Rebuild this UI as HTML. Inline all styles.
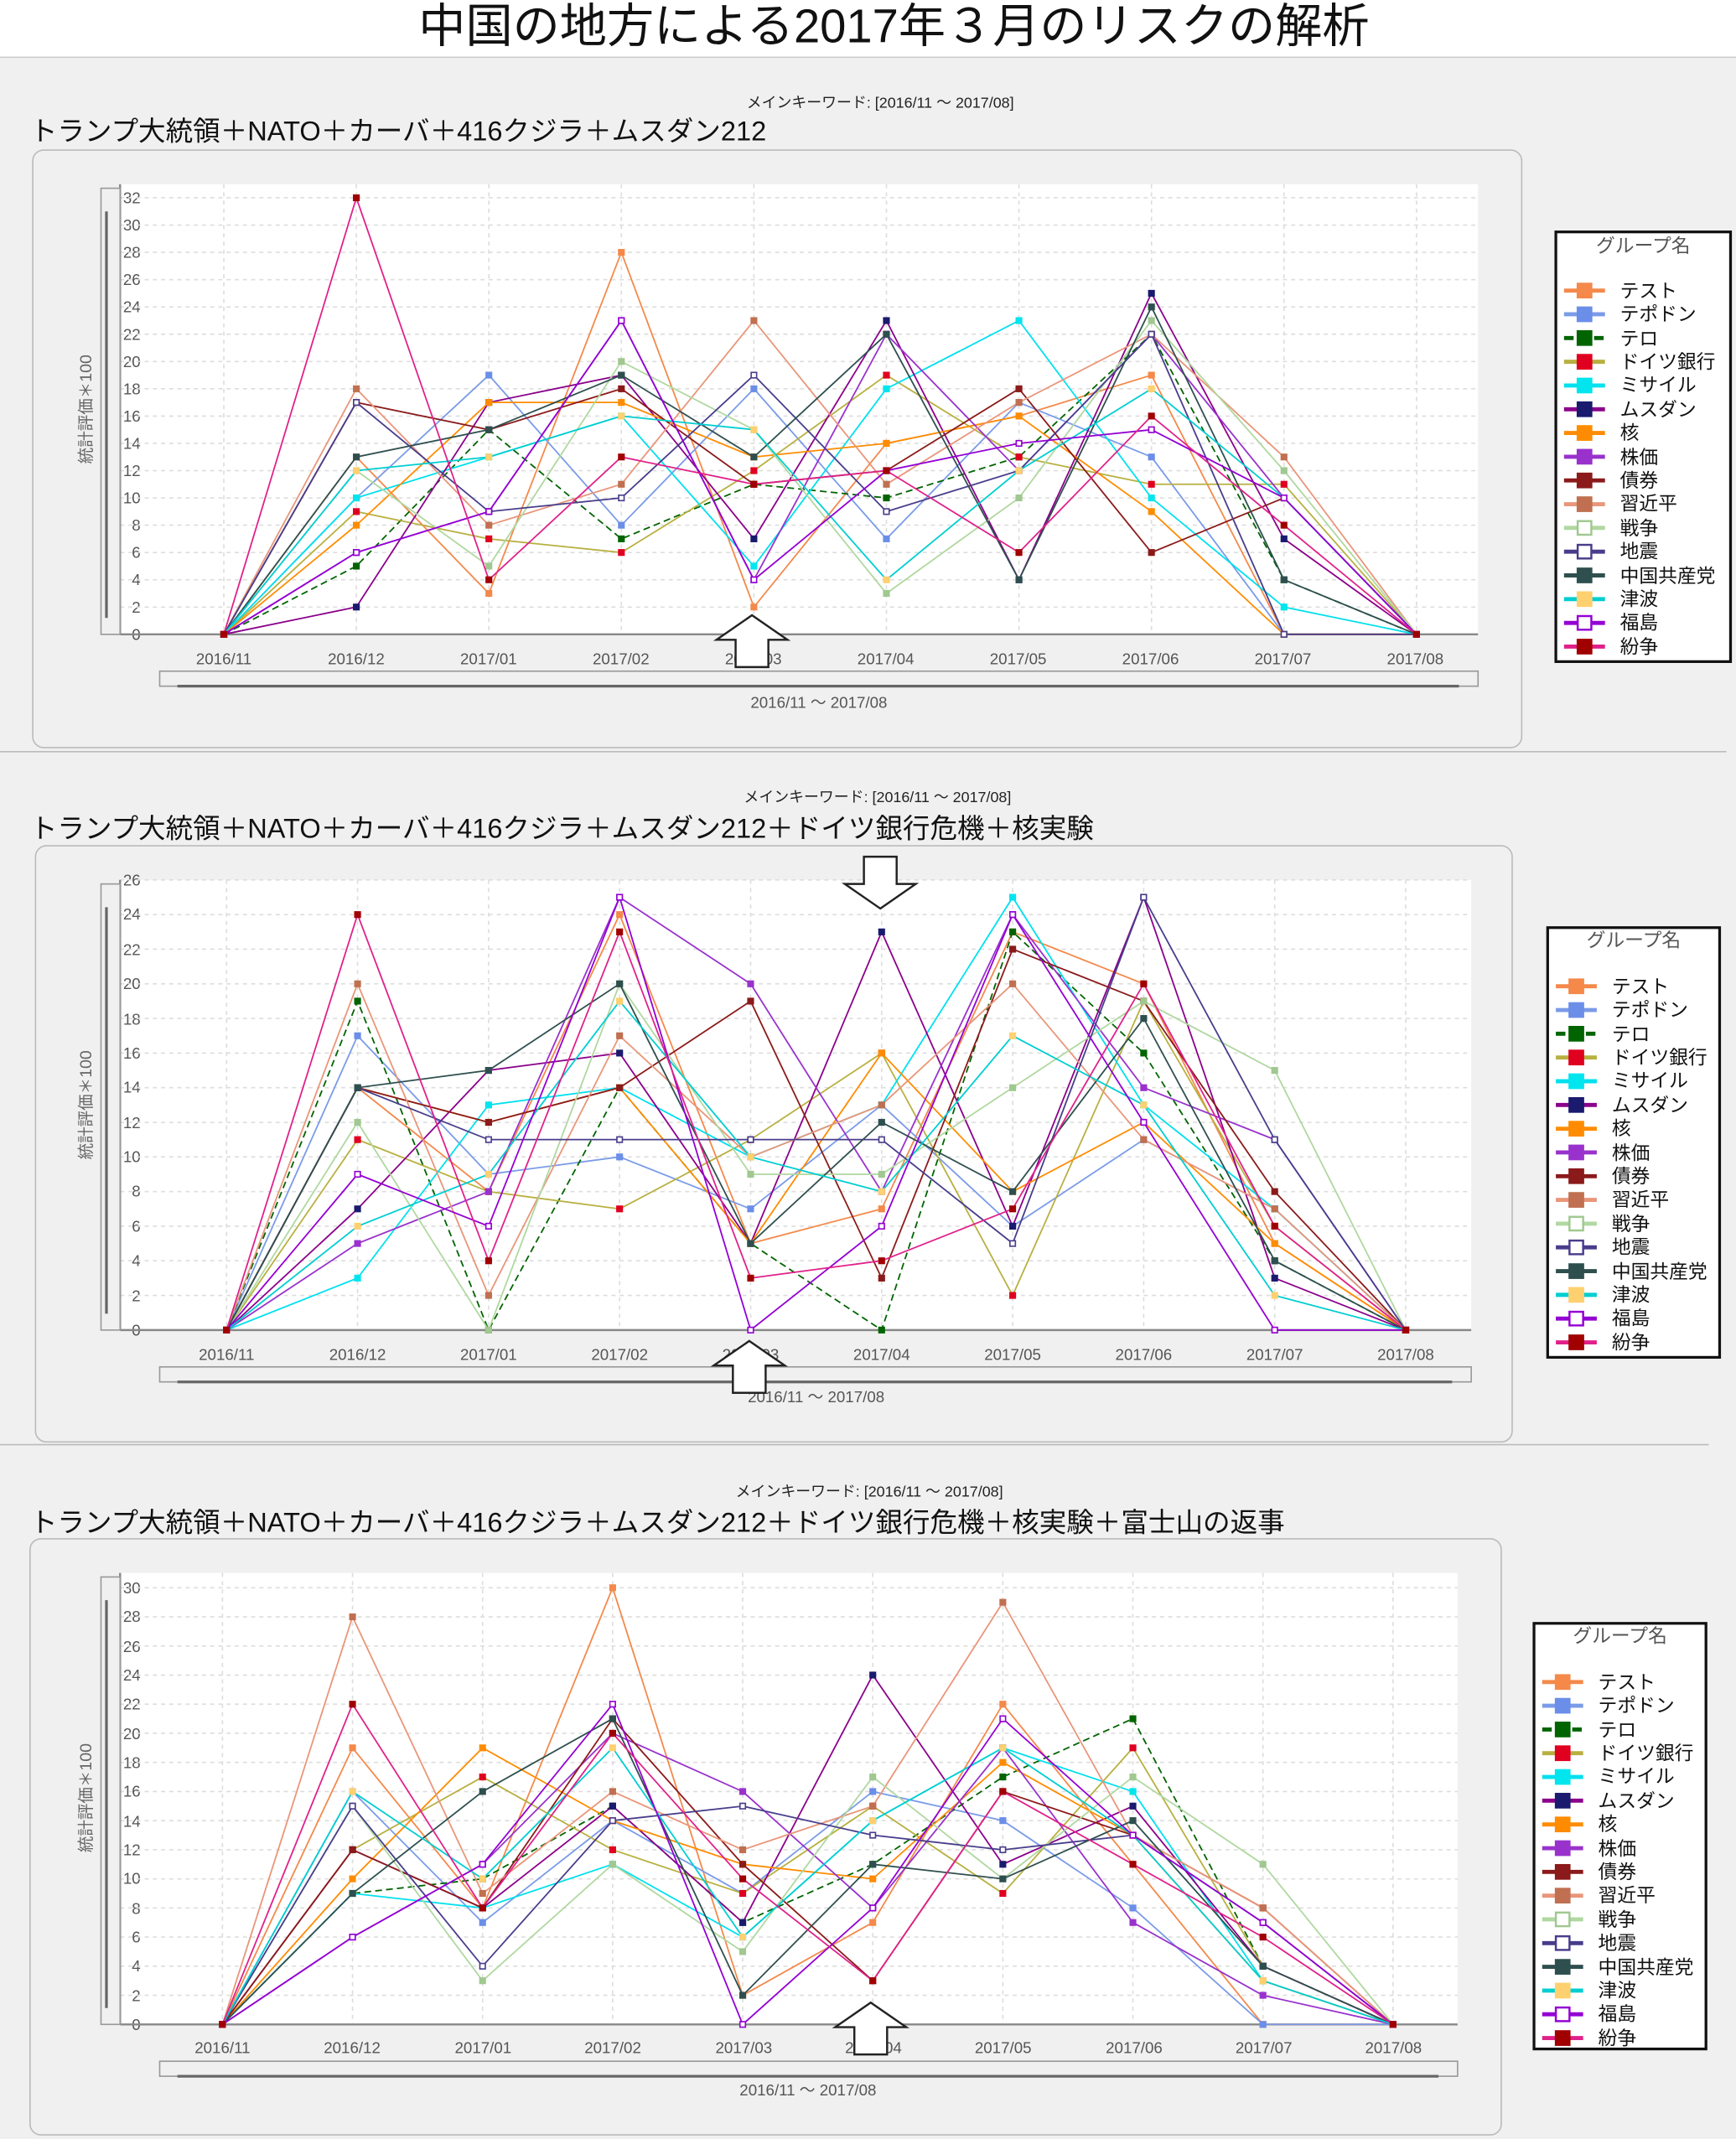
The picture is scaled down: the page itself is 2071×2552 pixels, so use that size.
<!DOCTYPE html>
<html><head><meta charset="utf-8"><style>
html,body{margin:0;padding:0;background:#f0f0f0;}
svg{display:block;font-family:"Liberation Sans","Noto Sans CJK JP",sans-serif;}
.t{fill:#555;font-size:11.5px}
.lg{font-size:14px;fill:#111}
</style></head><body>
<svg id="s" xmlns="http://www.w3.org/2000/svg" width="2071" height="2552" viewBox="0 0 1272 1568" preserveAspectRatio="none">
<rect width="1272" height="1568" fill="#f0f0f0"/>
<rect width="1272" height="42" fill="#fff"/>
<line x1="0" y1="42" x2="1272" y2="42" stroke="#ccc"/>
<text x="655" y="31" font-size="34.5" text-anchor="middle" fill="#111">中国の地方による2017年３月のリスクの解析</text>
<line x1="0" y1="551" x2="1265" y2="551" stroke="#bbb"/>
<line x1="0" y1="1059" x2="1252" y2="1059" stroke="#bbb"/>

<!-- panel 1 -->
<text x="645" y="79" font-size="11" text-anchor="middle" fill="#222">メインキーワード: [2016/11 ～ 2017/08]</text>
<text x="22" y="103" font-size="20" fill="#111">トランプ大統領＋NATO＋カーバ＋416クジラ＋ムスダン212</text>
<rect x="24" y="110" width="1091" height="438" rx="8" fill="#f0f0f0" stroke="#bbb"/>
<rect x="88" y="135" width="995" height="330" fill="#fff"/>
<text transform="translate(67,300) rotate(-90)" font-size="12" fill="#666" text-anchor="middle">統計評価＊100</text>
<g class="t" text-anchor="end">
<text x="103" y="469">0</text><text x="103" y="449">2</text><text x="103" y="429">4</text><text x="103" y="409">6</text><text x="103" y="389">8</text><text x="103" y="369">10</text><text x="103" y="349">12</text><text x="103" y="329">14</text><text x="103" y="309">16</text><text x="103" y="289">18</text><text x="103" y="269">20</text><text x="103" y="249">22</text><text x="103" y="229">24</text><text x="103" y="209">26</text><text x="103" y="189">28</text><text x="103" y="169">30</text><text x="103" y="149">32</text>
</g>
<g class="t" text-anchor="middle">
<text x="164" y="487">2016/11</text><text x="261" y="487">2016/12</text><text x="358" y="487">2017/01</text><text x="455" y="487">2017/02</text><text x="552" y="487">2017/03</text><text x="649" y="487">2017/04</text><text x="746" y="487">2017/05</text><text x="843" y="487">2017/06</text><text x="940" y="487">2017/07</text><text x="1037" y="487">2017/08</text>
<text x="600" y="519">2016/11 ～ 2017/08</text>
</g>
<rect x="1140" y="170" width="128" height="315" fill="#fff" stroke="#111" stroke-width="2"/>
<text x="1204" y="185" font-size="14" text-anchor="middle" fill="#555">グループ名</text>

<!-- panel 2 -->
<text x="643" y="588" font-size="11" text-anchor="middle" fill="#222">メインキーワード: [2016/11 ～ 2017/08]</text>
<text x="22" y="614" font-size="20" fill="#111">トランプ大統領＋NATO＋カーバ＋416クジラ＋ムスダン212＋ドイツ銀行危機＋核実験</text>
<rect x="26" y="620" width="1082" height="437" rx="8" fill="#f0f0f0" stroke="#bbb"/>
<rect x="88" y="645" width="990" height="330" fill="#fff"/>
<text transform="translate(67,810) rotate(-90)" font-size="12" fill="#666" text-anchor="middle">統計評価＊100</text>
<g class="t" text-anchor="end">
<text x="103" y="979">0</text><text x="103" y="954">2</text><text x="103" y="928">4</text><text x="103" y="903">6</text><text x="103" y="877">8</text><text x="103" y="852">10</text><text x="103" y="827">12</text><text x="103" y="801">14</text><text x="103" y="776">16</text><text x="103" y="751">18</text><text x="103" y="725">20</text><text x="103" y="700">22</text><text x="103" y="674">24</text><text x="103" y="649">26</text>
</g>
<g class="t" text-anchor="middle">
<text x="166" y="997">2016/11</text><text x="262" y="997">2016/12</text><text x="358" y="997">2017/01</text><text x="454" y="997">2017/02</text><text x="550" y="997">2017/03</text><text x="646" y="997">2017/04</text><text x="742" y="997">2017/05</text><text x="838" y="997">2017/06</text><text x="934" y="997">2017/07</text><text x="1030" y="997">2017/08</text>
<text x="598" y="1028">2016/11 ～ 2017/08</text>
</g>
<rect x="1134" y="680" width="126" height="315" fill="#fff" stroke="#111" stroke-width="2"/>
<text x="1197" y="694" font-size="14" text-anchor="middle" fill="#555">グループ名</text>

<!-- panel 3 -->
<text x="637" y="1097" font-size="11" text-anchor="middle" fill="#222">メインキーワード: [2016/11 ～ 2017/08]</text>
<text x="22" y="1123" font-size="20" fill="#111">トランプ大統領＋NATO＋カーバ＋416クジラ＋ムスダン212＋ドイツ銀行危機＋核実験＋富士山の返事</text>
<rect x="22" y="1128" width="1078" height="437" rx="8" fill="#f0f0f0" stroke="#bbb"/>
<rect x="88" y="1153" width="980" height="331" fill="#fff"/>
<text transform="translate(67,1318) rotate(-90)" font-size="12" fill="#666" text-anchor="middle">統計評価＊100</text>
<g class="t" text-anchor="end">
<text x="103" y="1488">0</text><text x="103" y="1467">2</text><text x="103" y="1445">4</text><text x="103" y="1424">6</text><text x="103" y="1403">8</text><text x="103" y="1381">10</text><text x="103" y="1360">12</text><text x="103" y="1339">14</text><text x="103" y="1317">16</text><text x="103" y="1296">18</text><text x="103" y="1275">20</text><text x="103" y="1253">22</text><text x="103" y="1232">24</text><text x="103" y="1211">26</text><text x="103" y="1189">28</text><text x="103" y="1168">30</text>
</g>
<g class="t" text-anchor="middle">
<text x="163" y="1505">2016/11</text><text x="258" y="1505">2016/12</text><text x="354" y="1505">2017/01</text><text x="449" y="1505">2017/02</text><text x="545" y="1505">2017/03</text><text x="640" y="1505">2017/04</text><text x="735" y="1505">2017/05</text><text x="831" y="1505">2017/06</text><text x="926" y="1505">2017/07</text><text x="1021" y="1505">2017/08</text>
<text x="592" y="1536">2016/11 ～ 2017/08</text>
</g>
<rect x="1124" y="1190" width="126" height="312" fill="#fff" stroke="#111" stroke-width="2"/>
<text x="1187" y="1204" font-size="14" text-anchor="middle" fill="#555">グループ名</text>

<g id="legendtext" class="lg">
<text x="1187" y="218">テスト</text><text x="1187" y="235">テポドン</text><text x="1187" y="253">テロ</text><text x="1187" y="270">ドイツ銀行</text><text x="1187" y="287">ミサイル</text><text x="1187" y="305">ムスダン</text><text x="1187" y="322">核</text><text x="1187" y="340">株価</text><text x="1187" y="357">債券</text><text x="1187" y="374">習近平</text><text x="1187" y="392">戦争</text><text x="1187" y="409">地震</text><text x="1187" y="427">中国共産党</text><text x="1187" y="444">津波</text><text x="1187" y="461">福島</text><text x="1187" y="479">紛争</text>
<text x="1181" y="728">テスト</text><text x="1181" y="745">テポドン</text><text x="1181" y="763">テロ</text><text x="1181" y="780">ドイツ銀行</text><text x="1181" y="797">ミサイル</text><text x="1181" y="815">ムスダン</text><text x="1181" y="832">核</text><text x="1181" y="850">株価</text><text x="1181" y="867">債券</text><text x="1181" y="884">習近平</text><text x="1181" y="902">戦争</text><text x="1181" y="919">地震</text><text x="1181" y="937">中国共産党</text><text x="1181" y="954">津波</text><text x="1181" y="971">福島</text><text x="1181" y="989">紛争</text>
<text x="1171" y="1238">テスト</text><text x="1171" y="1255">テポドン</text><text x="1171" y="1273">テロ</text><text x="1171" y="1290">ドイツ銀行</text><text x="1171" y="1307">ミサイル</text><text x="1171" y="1325">ムスダン</text><text x="1171" y="1342">核</text><text x="1171" y="1360">株価</text><text x="1171" y="1377">債券</text><text x="1171" y="1394">習近平</text><text x="1171" y="1412">戦争</text><text x="1171" y="1429">地震</text><text x="1171" y="1447">中国共産党</text><text x="1171" y="1464">津波</text><text x="1171" y="1481">福島</text><text x="1171" y="1499">紛争</text>
</g>
</svg>
<script>
var NS="http://www.w3.org/2000/svg",S=document.getElementById('s');
function el(t,a,p){var e=document.createElementNS(NS,t);for(var k in a)e.setAttribute(k,a[k]);(p||S).appendChild(e);return e;}
var C=["#f4894a","#7a9be8","#006400","#b8b040","#00e0ee","#8b008b","#ff8c00","#9932cc","#8b1a1a","#e9967a","#b0d8a0","#483d8b","#2f4f4f","#00ced1","#9400d3","#e0218a"];
var M=["#f4894a","#6b8ee8","#006400","#e00020","#00e5ee","#1a1a6e","#ff8c00","#9932cc","#8b1a1a","#c07050","#a0c890","#483d8b","#2f4f4f","#ffd070","#9400d3","#a00000"];
var D1=[[0,13,3,28,2,14,16,19,0,0],[0,10,19,8,18,7,17,13,0,0],[0,5,15,7,11,10,13,22,4,0],[0,9,7,6,12,19,13,11,11,0],[0,10,13,16,5,18,23,10,2,0],[0,2,17,19,7,23,4,25,7,0],[0,8,17,17,13,14,16,9,0,0],[0,6,9,23,4,22,12,22,10,0],[0,17,15,18,11,12,18,6,10,0],[0,18,8,11,23,11,17,22,13,0],[0,12,5,20,15,3,10,23,12,0],[0,17,9,10,19,9,12,22,0,0],[0,13,15,19,13,22,4,24,4,0],[0,12,13,16,15,4,12,18,10,0],[0,6,9,23,4,12,14,15,10,0],[0,32,4,13,11,12,6,16,8,0]];
var D2=[[0,14,8,24,5,7,23,20,5,0],[0,17,9,10,7,13,6,11,7,0],[0,19,0,14,5,0,23,16,4,0],[0,11,8,7,11,16,2,19,6,0],[0,3,13,14,10,13,25,13,7,0],[0,7,15,16,5,23,6,25,3,0],[0,14,12,14,5,16,8,12,5,0],[0,5,8,25,20,8,24,14,11,0],[0,14,12,14,19,3,22,19,8,0],[0,20,2,17,10,13,20,11,7,0],[0,12,0,20,9,9,14,19,15,0],[0,14,11,11,11,11,5,25,11,0],[0,14,15,20,5,12,8,18,4,0],[0,6,9,19,10,8,17,13,2,0],[0,9,6,25,0,6,24,12,0,0],[0,24,4,23,3,4,7,20,6,0]];
var D3=[[0,19,8,30,2,7,22,11,0,0],[0,16,7,14,9,16,14,8,0,0],[0,9,10,15,7,11,17,21,4,0],[0,12,17,12,9,15,9,19,4,0],[0,9,8,11,6,14,19,16,3,0],[0,12,8,15,7,24,11,15,4,0],[0,10,19,14,11,10,18,13,3,0],[0,6,11,20,16,8,19,7,2,0],[0,12,8,21,11,3,16,13,8,0],[0,28,9,16,12,15,29,13,8,0],[0,15,3,11,5,17,10,17,11,0],[0,15,4,14,15,13,12,13,7,0],[0,9,16,21,2,11,10,14,4,0],[0,16,10,19,6,14,19,13,3,0],[0,6,11,22,0,8,21,13,7,0],[0,22,8,20,10,3,16,11,6,0]];
function chart(o){
 var g=el('g',{});
 for(var v=0;v<=o.ymax;v+=2){var y=o.y0-v*o.k;el('line',{x1:o.L,x2:o.R,y1:y,y2:y,stroke:"#ddd","stroke-dasharray":"3,3"},g);}
 for(var i=0;i<10;i++){var x=o.x0+o.dx*i;el('line',{x1:x,x2:x,y1:o.T,y2:o.y0,stroke:"#ddd","stroke-dasharray":"3,3"},g);}
 el('line',{x1:o.L,x2:o.R,y1:o.y0,y2:o.y0,stroke:"#888","stroke-width":1.5},g);
 el('line',{x1:o.L,x2:o.L,y1:o.T,y2:o.y0,stroke:"#888","stroke-width":1.5},g);
 el('rect',{x:74,y:o.T+3,width:14,height:o.y0-o.T-3,fill:"#f0f0f0",stroke:"#999"},g);
 el('rect',{x:117,y:o.y0+27,width:o.R-117,height:11,fill:"#f0f0f0",stroke:"#999"},g);
 el('line',{x1:130,x2:o.R-14,y1:o.y0+38,y2:o.y0+38,stroke:"#666","stroke-width":2},g);
 el('line',{x1:78,x2:78,y1:o.T+20,y2:o.y0-12,stroke:"#666","stroke-width":2},g);
 o.D.forEach(function(d,s){
  var pts=d.map(function(v,i){return (o.x0+o.dx*i).toFixed(1)+","+(o.y0-v*o.k).toFixed(1)}).join(" ");
  el('polyline',{points:pts,fill:"none",stroke:C[s],"stroke-width":1.1,"stroke-dasharray":s==2?"5,3":"none"},g);
  d.forEach(function(v,i){var x=o.x0+o.dx*i,y=o.y0-v*o.k;el('rect',{x:x-2,y:y-2,width:4,height:4,fill:(s==11||s==14)?"#fff":M[s],stroke:M[s],"stroke-width":1},g);});
 });
 for(var s=0;s<16;s++){var y=o.ly+s*17.4;el('line',{x1:o.lx,x2:o.lx+30,y1:y,y2:y,stroke:C[s],"stroke-width":3,"stroke-dasharray":s==2?"7,4":"none"});el('rect',{x:o.lx+10,y:y-5,width:10,height:10,fill:(s==11||s==14||s==10)?"#fff":M[s],stroke:M[s],"stroke-width":1.5});}
}
chart({L:88,R:1083,T:135,y0:465,k:10,ymax:32,x0:164,dx:97.1,D:D1,lx:1146,ly:213});
chart({L:88,R:1078,T:645,y0:975,k:12.69,ymax:26,x0:166,dx:96,D:D2,lx:1140,ly:723});
chart({L:88,R:1068,T:1153,y0:1484,k:10.67,ymax:30,x0:163,dx:95.3,D:D3,lx:1130,ly:1233});
function arrow(x,y,up){var p=up?[[x,y],[x+26,y+18],[x+12,y+18],[x+12,y+38],[x-12,y+38],[x-12,y+18],[x-26,y+18]]:[[x,y+38],[x+26,y+20],[x+12,y+20],[x+12,y],[x-12,y],[x-12,y+20],[x-26,y+20]];el('polygon',{points:p.map(function(a){return a.join(",")}).join(" "),fill:"#fff",stroke:"#222","stroke-width":1.5});}
arrow(551,451,true);arrow(645,628,false);arrow(549,983,true);arrow(638,1468,true);
S.appendChild(document.getElementById('legendtext'));
</script>
</body></html>
